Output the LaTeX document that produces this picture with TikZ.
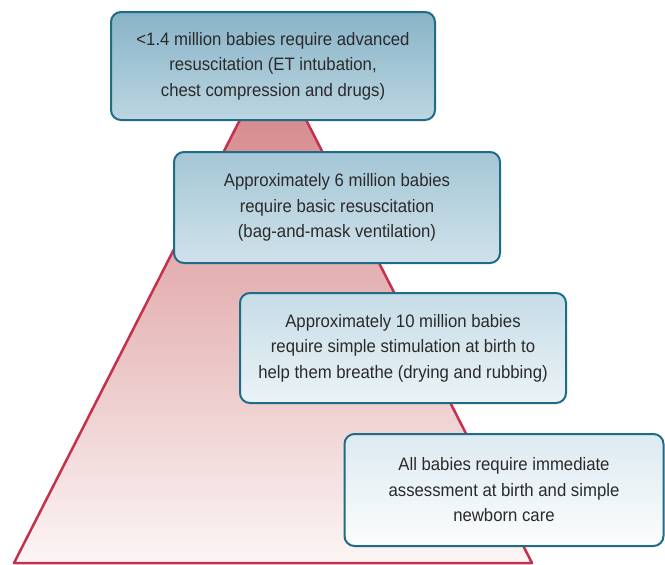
\documentclass[tikz,border=0pt]{standalone}
\usepackage{fontspec}
\setmainfont{Liberation Sans}[FakeStretch=0.93]
\definecolor{tribord}{HTML}{C4304D}
\definecolor{tritop}{HTML}{D27E80}
\definecolor{tribot}{HTML}{FCF5F5}
\definecolor{boxbord}{HTML}{1E6C88}
\definecolor{txt}{HTML}{2A2A2A}
\definecolor{bAt}{HTML}{88B3C7}\definecolor{bAb}{HTML}{BCD6E2}
\definecolor{bBt}{HTML}{A4C6D6}\definecolor{bBb}{HTML}{D0E2EA}
\definecolor{bCt}{HTML}{C6DCE7}\definecolor{bCb}{HTML}{EBF3F6}
\definecolor{bDt}{HTML}{DDEAF1}\definecolor{bDb}{HTML}{FBFDFD}
\tikzset{
  infobox/.style={draw=boxbord, line width=2pt, rounded corners=10pt, align=center,
    text=txt, font=\fontsize{18}{25.5}\selectfont, inner sep=0pt},
}
\begin{document}
\begin{tikzpicture}[x=1pt,y=-1pt]
\useasboundingbox (0,0) rectangle (665,565);
\coordinate (apex) at (273,55);
\coordinate (bl) at (14,563);
\coordinate (br) at (532,563);
\shade[top color=tritop, bottom color=tribot] (apex) -- (bl) -- (br) -- cycle;
\draw[tribord, line width=2.5pt, line join=round] (apex) -- (bl) -- (br) -- cycle;
\node[infobox, top color=bAt, bottom color=bAb, minimum width=324pt, minimum height=108pt] (b1) at (273,66)
  {<1.4 million babies require advanced\\resuscitation (ET intubation,\\chest compression and drugs)};
\node[infobox, top color=bBt, bottom color=bBb, minimum width=326pt, minimum height=111pt] (b2) at (337,207.5)
  {Approximately 6 million babies\\require basic resuscitation\\(bag-and-mask ventilation)};
\node[infobox, top color=bCt, bottom color=bCb, minimum width=326pt, minimum height=110pt] (b3) at (403,348)
  {Approximately 10 million babies\\require simple stimulation at birth to\\help them breathe (drying and rubbing)};
\node[infobox, top color=bDt, bottom color=bDb, minimum width=319pt, minimum height=112pt] (b4) at (504,490)
  {All babies require immediate\\assessment at birth and simple\\newborn care};
\end{tikzpicture}
\end{document}
